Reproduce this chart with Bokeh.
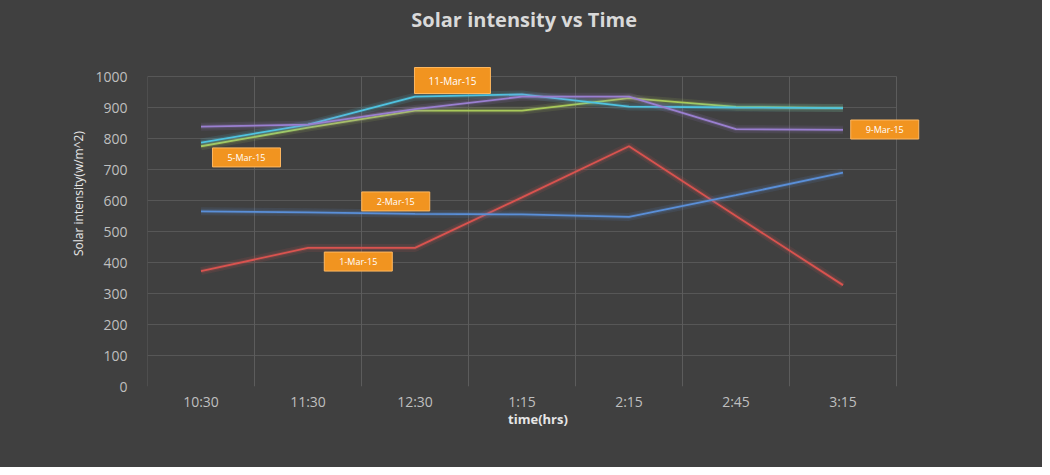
from bokeh.plotting import figure
from bokeh.models import Range1d, FixedTicker, Grid, Label
from bokeh.embed import file_html
from bokeh.resources import INLINE

# ---- data ----
times = ["10:30", "11:30", "12:30", "1:15", "2:15", "2:45", "3:15"]
mar1 = [372, 447, 447, 610, 775, 550, 327]
mar2 = [565, 562, 557, 555, 547, 617, 690]
mar5 = [775, 835, 890, 890, 930, 902, 898]
mar11 = [787, 845, 935, 942, 903, 900, 898]
mar9 = [838, 845, 895, 935, 935, 830, 828]
series_names = ["1-Mar-15", "2-Mar-15", "5-Mar-15", "11-Mar-15", "9-Mar-15"]
series_values = [mar1, mar2, mar5, mar11, mar9]
# data-label anchor positions (category units, intensity units)
label_x = [1.97, 2.32, 0.925, 2.85, 6.89]
label_y = [403, 597, 739, 987, 829]
y_ticks = list(range(0, 1001, 100))
y_max = 1000

colors = ["#d9534f", "#5a8fd8", "#a9c95a", "#4fc3e0", "#9a7fd0"]
BG = "#404040"
FONT = "Open Sans"

W, H = 1042, 467
LEFT, RIGHT, BOTTOM = 147, 114, 81
n = len(times)
cat_px = 749 / n          # pixel width of one category
val_px = 310 / y_max      # pixels per intensity unit
x_end = (W - LEFT - RIGHT) / cat_px
y_end = (H - BOTTOM) / val_px

xs = [i + 0.5 for i in range(n)]

p = figure(width=W, height=H, x_range=Range1d(-1e-6, x_end),
           y_range=Range1d(0, y_end), output_backend="svg", toolbar_location=None,
           title=None,
           background_fill_color=BG, border_fill_color=BG, outline_line_color=None,
           min_border_left=LEFT, min_border_right=RIGHT, min_border_top=0,
           min_border_bottom=BOTTOM)
p.styles = {"background-color": BG}

# grids
p.xgrid.visible = False
p.add_layout(Grid(dimension=0, ticker=FixedTicker(ticks=list(range(n + 1))),
                  cross_bounds=(0, y_max),
                  grid_line_color="#5c5c5c", grid_line_width=1))
p.ygrid.ticker = FixedTicker(ticks=y_ticks[1:])
p.ygrid.cross_bounds = (0, n)
p.ygrid.grid_line_color = "#575757"

# axes
p.xaxis.ticker = FixedTicker(ticks=xs)
p.xaxis.major_label_overrides = {x: t for x, t in zip(xs, times)}
p.xaxis.bounds = (0, n)
p.yaxis.ticker = FixedTicker(ticks=y_ticks)
p.yaxis.bounds = (0, y_max)
for ax in (p.xaxis[0], p.yaxis[0]):
    ax.axis_line_color = None
    ax.major_tick_line_color = None
    ax.minor_tick_line_color = None
    ax.major_label_text_color = "#bfbfbf"
    ax.major_label_text_font = FONT
    ax.major_label_text_font_size = "14px"
    ax.axis_label_text_color = "#e6e6e6"
    ax.axis_label_text_font = FONT
p.xaxis.axis_label = "time(hrs)"
p.xaxis.axis_label_text_font_size = "13px"
p.xaxis.axis_label_text_font_style = "bold"
p.xaxis.major_label_standoff = -1
p.xaxis.axis_label_standoff = -4
p.yaxis.axis_label = "Solar intensity(w/m^2)"
p.yaxis.axis_label_text_font_size = "12px"
p.yaxis.axis_label_text_font_style = "normal"
p.yaxis.major_label_standoff = 14
p.yaxis.axis_label_standoff = 5

# lines with glow
for vals, c in zip(series_values, colors):
    p.line(xs, vals, line_color=c, line_width=8, line_alpha=0.12)
    p.line(xs, vals, line_color=c, line_width=4, line_alpha=0.18)
    p.line(xs, vals, line_color=c, line_width=1.8)

# data labels
for name, lx, ly in zip(series_names, label_x, label_y):
    big = name == "11-Mar-15"
    fs = "10px" if big else "9px"
    pad = dict(left=14, right=14, top=6, bottom=6) if big else dict(left=15, right=15, top=3, bottom=3)
    p.add_layout(Label(x=lx, y=ly, text=name, text_font=FONT, text_font_size=fs,
                       text_alpha=0, text_align="center", text_baseline="middle",
                       background_fill_color="black", background_fill_alpha=0.45,
                       padding=pad, x_offset=2, y_offset=-2))
    p.add_layout(Label(x=lx, y=ly, text=name, text_font=FONT, text_font_size=fs,
                       text_color="white", text_align="center", text_baseline="middle",
                       background_fill_color="#f19420", border_line_color="#ffb860",
                       border_line_width=1, padding=pad))

# title
p.add_layout(Label(x=3.52, y=1184, text="Solar intensity vs Time", text_font=FONT,
                   text_font_size="20px", text_font_style="bold", text_color="#d9d9d9",
                   text_align="center", text_baseline="middle"))

open("out.html", "w").write(file_html(p, INLINE))
